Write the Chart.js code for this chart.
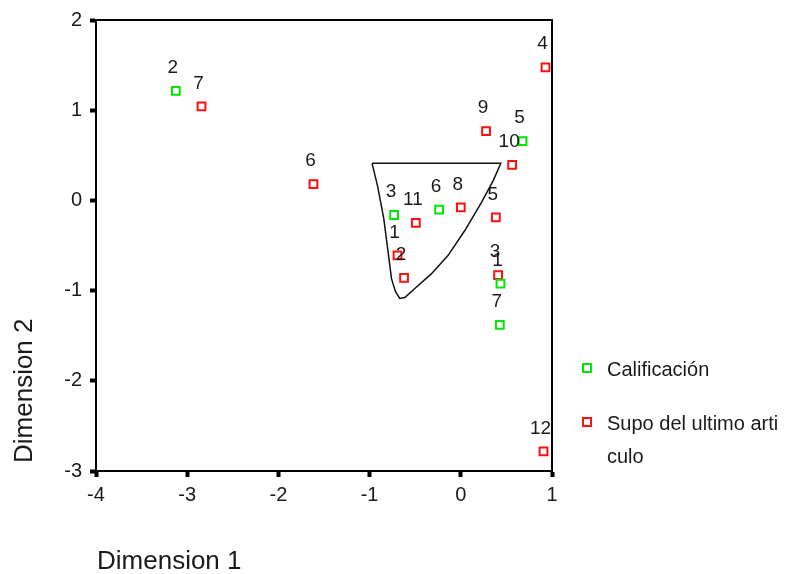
<!DOCTYPE html>
<html>
<head>
<meta charset="utf-8">
<title>Dimension 1 / Dimension 2</title>
<script src="https://cdn.jsdelivr.net/npm/chart.js@4.4.0/dist/chart.umd.min.js"></script>
<style>
    html, body { margin: 0; padding: 0; background: #fff; }
</style>
</head>
<body>
<canvas id="chart" width="785" height="574"></canvas>
<script>
// Calificación (green squares)
const calificacionLabels = ['1', '2', '3', '5', '6', '7'];
const calificacionX = [0.435, -3.125, -0.731, 0.677, -0.238, 0.428];
const calificacionY = [-0.922, 1.215, -0.162, 0.657, -0.102, -1.38];

// Supo del ultimo articulo (red squares)
const supoLabels = ['1', '2', '3', '4', '5', '6', '7', '8', '9', '10', '11', '12'];
const supoX = [-0.694, -0.622, 0.409, 0.929, 0.384, -1.615, -2.843, 0.0, 0.277, 0.563, -0.493, 0.907];
const supoY = [-0.609, -0.859, -0.829, 1.476, -0.187, 0.18, 1.043, -0.077, 0.768, 0.393, -0.25, -2.783];

// outline drawn around the central group
const hullX = [-0.973, 0.439, 0.354, 0.227, 0.044, -0.139, -0.321, -0.504, -0.614, -0.669, -0.716, -0.760, -0.797, -0.844, -0.913, -0.973];
const hullY = [0.411, 0.411, 0.217, -0.022, -0.334, -0.609, -0.812, -0.977, -1.076, -1.087, -1.013, -0.867, -0.573, -0.206, 0.162, 0.411];

const legendNames = ['Calificación', 'Supo del ultimo arti\nculo'];

const FONT = '"Liberation Sans", Arial, sans-serif';
const TEXT = '#1a1a1a';
const GREEN = '#00e600';
const RED = '#ff1010';

function toPoints(xs, ys) {
    return xs.map((x, i) => ({ x: x, y: ys[i] }));
}

// Box around the plot area
const framePlugin = {
    id: 'frame',
    afterDraw(chart) {
        const { ctx, chartArea: a } = chart;
        ctx.save();
        ctx.strokeStyle = '#000';
        ctx.lineWidth = 2;
        ctx.strokeRect(a.left, a.top, a.right - a.left, a.bottom - a.top);
        ctx.restore();
    }
};

// Number above each point
const pointLabelPlugin = {
    id: 'pointLabels',
    afterDatasetsDraw(chart) {
        const ctx = chart.ctx;
        ctx.save();
        ctx.font = '19px ' + FONT;
        ctx.fillStyle = TEXT;
        ctx.textAlign = 'center';
        ctx.textBaseline = 'middle';
        chart.data.datasets.forEach((ds, i) => {
            if (!ds.pointLabels) return;
            chart.getDatasetMeta(i).data.forEach((pt, j) => {
                ctx.fillText(ds.pointLabels[j], pt.x - 3, pt.y - 23);
            });
        });
        ctx.restore();
    }
};

// Legend on the right and the two axis titles
const sidePlugin = {
    id: 'side',
    afterDraw(chart) {
        const ctx = chart.ctx;
        ctx.save();
        ctx.fillStyle = TEXT;

        // axis titles
        ctx.font = '26px ' + FONT;
        ctx.textAlign = 'left';
        ctx.textBaseline = 'alphabetic';
        ctx.fillText(chart.options.scales.x.title.text, 97, 569);
        ctx.save();
        ctx.translate(32, 463);
        ctx.rotate(-Math.PI / 2);
        ctx.fillText(chart.options.scales.y.title.text, 0, 0);
        ctx.restore();

        // legend
        ctx.font = '20px ' + FONT;
        ctx.textBaseline = 'middle';
        const entries = chart.data.datasets.filter(ds => ds.legendName);
        let y = 368;
        entries.forEach(ds => {
            ctx.strokeStyle = ds.borderColor;
            ctx.lineWidth = 2;
            ctx.fillStyle = '#fff';
            ctx.fillRect(583, y - 4, 8, 8);
            ctx.strokeRect(583, y - 4, 8, 8);
            ctx.fillStyle = TEXT;
            const lines = ds.legendName.split('\n');
            lines.forEach((line, k) => {
                ctx.fillText(line, 607, y + 2 + k * 33);
            });
            y += 54;
        });
        ctx.restore();
    }
};

function initChart() {
    const ctx = document.getElementById('chart').getContext('2d');
    new Chart(ctx, {
        type: 'scatter',
        data: {
            datasets: [
                {
                    label: 'hull',
                    data: toPoints(hullX, hullY),
                    showLine: true,
                    borderColor: '#111',
                    borderWidth: 1.5,
                    pointRadius: 0,
                    tension: 0,
                    fill: false
                },
                {
                    label: legendNames[0],
                    legendName: legendNames[0],
                    data: toPoints(calificacionX, calificacionY),
                    pointLabels: calificacionLabels,
                    pointStyle: 'rect',
                    pointRadius: 5.5,
                    borderWidth: 2,
                    borderColor: GREEN,
                    backgroundColor: '#fff'
                },
                {
                    label: legendNames[1],
                    legendName: legendNames[1],
                    data: toPoints(supoX, supoY),
                    pointLabels: supoLabels,
                    pointStyle: 'rect',
                    pointRadius: 5.5,
                    borderWidth: 2,
                    borderColor: RED,
                    backgroundColor: '#fff'
                }
            ]
        },
        options: {
            responsive: false,
            animation: false,
            layout: {
                padding: { top: 17, right: 233, left: 0, bottom: 0 }
            },
            plugins: {
                legend: { display: false },
                tooltip: { enabled: false }
            },
            scales: {
                x: {
                    type: 'linear',
                    min: -4,
                    max: 1,
                    title: { display: false, text: 'Dimension 1' },
                    ticks: { stepSize: 1, color: TEXT, font: { family: FONT, size: 20 }, padding: 6 },
                    grid: { drawOnChartArea: false, drawTicks: true, tickLength: 6, tickWidth: 4, tickColor: '#000' },
                    border: { display: true, color: '#000', width: 2 },
                    afterFit(scale) { scale.height = 103; }
                },
                y: {
                    type: 'linear',
                    min: -3,
                    max: 2,
                    title: { display: false, text: 'Dimension 2' },
                    ticks: { stepSize: 1, color: TEXT, font: { family: FONT, size: 20 }, padding: 8 },
                    grid: { drawOnChartArea: false, drawTicks: true, tickLength: 6, tickWidth: 4, tickColor: '#000' },
                    border: { display: true, color: '#000', width: 2 },
                    afterFit(scale) { scale.width = 96; }
                }
            }
        },
        plugins: [framePlugin, pointLabelPlugin, sidePlugin]
    });
}

initChart();
</script>
</body>
</html>
